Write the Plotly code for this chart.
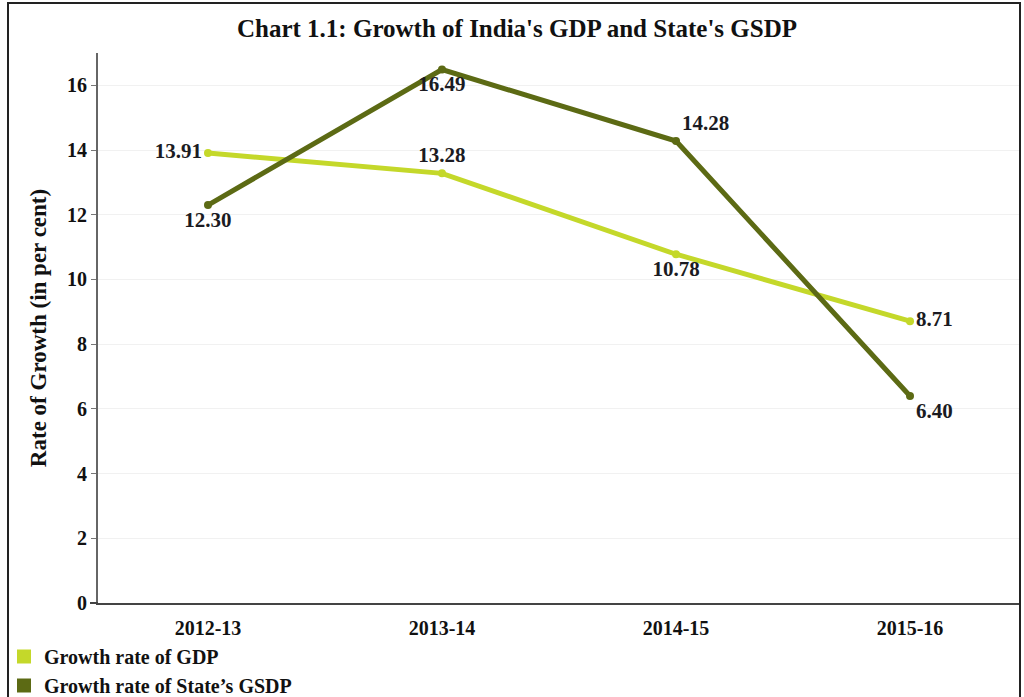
import plotly.graph_objects as go

# Financial years and growth rates (per cent)
years = ["2012-13", "2013-14", "2014-15", "2015-16"]
gdp_growth = [13.91, 13.28, 10.78, 8.71]
gsdp_growth = [12.30, 16.49, 14.28, 6.40]

gdp_name = "Growth rate of GDP"
gsdp_name = "Growth rate of State\u2019s GSDP"

gdp_color = "#c4d82a"
gsdp_color = "#5c6a14"
serif = "Liberation Serif, Times New Roman, serif"
label_font = dict(family=serif, size=21, color="#1b1b22")

gdp_text_pos = ["middle left", "top center", "bottom center", "middle right"]
gsdp_text_pos = ["bottom center", "bottom center", "top right", "bottom right"]

fig = go.Figure()

fig.add_trace(go.Scatter(
    x=years, y=gdp_growth, mode="lines+markers+text",
    line=dict(color=gdp_color, width=5),
    marker=dict(color=gdp_color, size=8),
    text=[f"<b>{v:.2f}</b>" for v in gdp_growth],
    textposition=gdp_text_pos, textfont=label_font,
    showlegend=False, cliponaxis=False,
))
fig.add_trace(go.Scatter(
    x=years, y=gsdp_growth, mode="lines+markers+text",
    line=dict(color=gsdp_color, width=5),
    marker=dict(color=gsdp_color, size=8),
    text=[f"<b>{v:.2f}</b>" for v in gsdp_growth],
    textposition=gsdp_text_pos, textfont=label_font,
    showlegend=False, cliponaxis=False,
))

# Square legend keys
for name, color in [(gdp_name, gdp_color), (gsdp_name, gsdp_color)]:
    fig.add_trace(go.Scatter(
        x=[None], y=[None], mode="markers", name=f"<b>{name}</b>",
        marker=dict(symbol="square", size=14, color=color),
    ))

W, H = 1024, 697
ml, mr, mt, mb = 98, 4, 53, 94
pw, ph = W - ml - mr, H - mt - mb


def px_x(p):
    return (p - ml) / pw


def px_y(p):
    return (H - mb - p) / ph


tick_font = dict(family=serif, size=20, color="#111", weight="bold")

fig.update_layout(
    width=W, height=H,
    margin=dict(l=ml, r=mr, t=mt, b=mb, autoexpand=False),
    paper_bgcolor="white", plot_bgcolor="white",
    font=dict(family=serif, color="#111"),
    title=dict(
        text="<b>Chart 1.1: Growth of India's GDP and State's GSDP</b>",
        x=px_x(517), xanchor="center", xref="paper",
        y=1 - 28 / H, yanchor="middle",
        font=dict(family=serif, size=25, color="#111"),
    ),
    xaxis=dict(
        type="category", range=[-0.47, 3.47],
        showgrid=False, showline=True, linecolor="#444", linewidth=2,
        ticks="", tickfont=tick_font,
        ticklabelstandoff=6,
    ),
    yaxis=dict(
        range=[0, 17], tickvals=list(range(0, 17, 2)),
        showgrid=True, gridcolor="#f1f1f1", gridwidth=1,
        zeroline=False,
        showline=True, linecolor="#666", linewidth=2,
        ticks="outside", ticklen=5, tickcolor="#777",
        tickfont=tick_font,
        title=dict(text="<b>Rate of Growth (in per cent)</b>",
                   font=dict(family=serif, size=23, color="#111"),
                   standoff=14),
    ),
    legend=dict(
        x=px_x(4), y=px_y(637), xanchor="left", yanchor="top",
        font=dict(family=serif, size=20, color="#111"),
        itemwidth=30, tracegroupgap=0, bgcolor="rgba(0,0,0,0)",
    ),
    shapes=[
        # outer frame
        dict(type="rect", xref="paper", yref="paper",
             x0=px_x(8), x1=px_x(1020), y0=px_y(3), y1=px_y(720),
             line=dict(color="#222", width=2), fillcolor="rgba(0,0,0,0)"),
        # bottom axis extends slightly left of the value axis
        dict(type="line", xref="paper", yref="paper",
             x0=px_x(90), x1=0, y0=0, y1=0,
             line=dict(color="#444", width=2)),
    ],
)

fig.write_html("out.html")
